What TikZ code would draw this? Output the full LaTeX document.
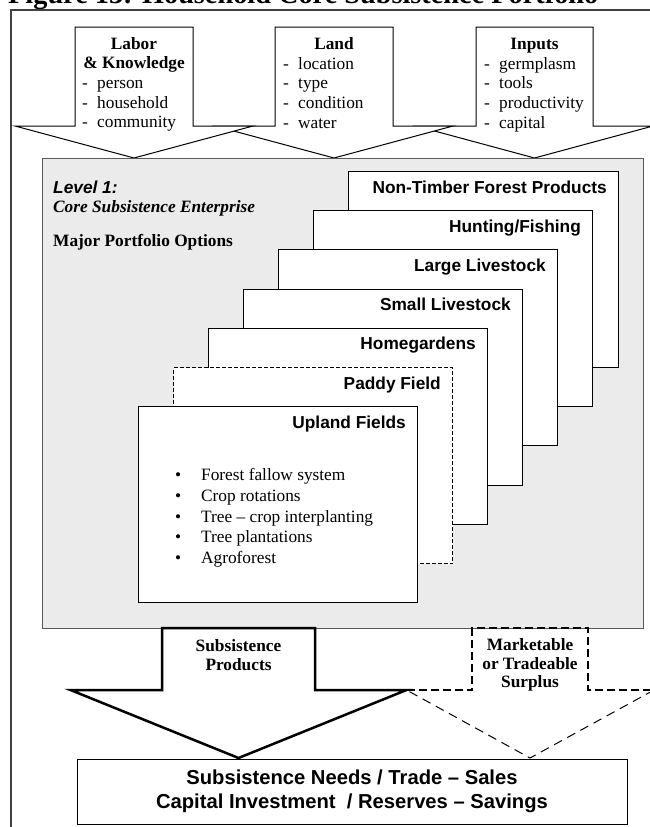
\documentclass[tikz,border=0pt]{standalone}
\usepackage{fontspec}
\setmainfont{Liberation Serif}
\setsansfont{Liberation Sans}
\usetikzlibrary{calc}
\newcommand\fsz{\fontsize{17.3}{19.7}\selectfont}
\newcommand\dsh{\makebox[15pt][l]{-}}
\newcommand\bul{\makebox[26pt][l]{\textbullet}}
\tikzset{outerline/.style={draw=black!75,line width=1.5pt},
blk/.style={draw=black,fill=white,line width=1pt,line join=miter},
panel/.style={draw=black!65,fill=black!8,line width=1.3pt,anchor=north west,inner sep=0pt,minimum width=601pt,minimum height=470pt},
card/.style={draw=black,fill=white,line width=1pt,anchor=north west,inner sep=0pt,minimum width=279pt,minimum height=196pt},
cardlab/.style={font=\sffamily\bfseries\fsz,anchor=base east,inner sep=0pt},
hd/.style={font=\bfseries\fsz,align=center,anchor=base,inner sep=0pt},
lst/.style={font=\fsz,align=left,anchor=base west,inner sep=0pt},
txt/.style={anchor=base west,inner sep=0pt},
outarr/.style={draw=black,fill=white,line width=2.5pt,line join=miter},
dshaft/.style={draw=black,line width=2.5pt,dash pattern=on 8pt off 4pt},
dhead/.style={draw=black,line width=1pt,dash pattern=on 9pt off 6pt}}
\begin{document}
\begin{tikzpicture}[x=1pt,y=-1pt]
\useasboundingbox (0,0) rectangle (649,827);
\node[txt,font=\bfseries\fontsize{28.3}{30}\selectfont] (title) at (8,3.5) {Figure 13: Household Core Subsistence Portfolio};
\draw[outerline] (11,840) -- (11,10) -- (660,10);
\draw[blk] (416,126) -- (476,126) -- (476,27) -- (593,27) -- (593,126) -- (653,126) -- (534.5,158) -- cycle;
\draw[blk] (215,126) -- (275,126) -- (275,27) -- (393,27) -- (393,126) -- (453,126) -- (334,158) -- cycle;
\draw[blk] (15,126) -- (75,126) -- (75,27) -- (193,27) -- (193,126) -- (253,126) -- (134,158) -- cycle;
\node[hd] (labor) at (134,68.7) {Labor\\\& Knowledge};
\node[lst] (laborlist) at (82,127.9) {\dsh person\\\dsh household\\\dsh community};
\node[hd] (land) at (334,49) {Land};
\node[lst] (landlist) at (283,128.1) {\dsh location\\\dsh type\\\dsh condition\\\dsh water};
\node[hd] (inputs) at (534.5,49) {Inputs};
\node[lst] (inputslist) at (484,128.1) {\dsh germplasm\\\dsh tools\\\dsh productivity\\\dsh capital};
\node[panel] (core) at (42,158) {};
\node[txt,font=\sffamily\bfseries\itshape\fsz] (level) at (53,193) {Level 1:};
\node[txt,font=\bfseries\itshape\fsz] (enterprise) at (53,212) {Core Subsistence Enterprise};
\node[txt,font=\bfseries\fsz] (options) at (53,246) {Major Portfolio Options};
\node[card,minimum width=270pt] (ntfp) at (348,171) {};
\node[card] (hunt) at (313,210.2) {};
\node[card] (large) at (278,249.4) {};
\node[card] (small) at (243,288.6) {};
\node[card] (home) at (208,327.8) {};
\node[card,dash pattern=on 4pt off 2pt] (paddy) at (173,367) {};
\node[card] (upland) at (138,406.2) {};
\node[cardlab] (ntfplab) at ($(ntfp.north east)+(-12,22)$) {Non-Timber Forest Products};
\node[cardlab] (huntlab) at ($(hunt.north east)+(-12,22)$) {Hunting/Fishing};
\node[cardlab] (largelab) at ($(large.north east)+(-12,22)$) {Large Livestock};
\node[cardlab] (smalllab) at ($(small.north east)+(-12,22)$) {Small Livestock};
\node[cardlab] (homelab) at ($(home.north east)+(-12,22)$) {Homegardens};
\node[cardlab] (paddylab) at ($(paddy.north east)+(-12,22)$) {Paddy Field};
\node[cardlab] (uplandlab) at ($(upland.north east)+(-12,22)$) {Upland Fields};
\node[lst,font=\fontsize{17.3}{20.8}\selectfont] (uplandlist) at (175,563.7) {\bul Forest fallow system\\\bul Crop rotations\\\bul Tree – crop interplanting\\\bul Tree plantations\\\bul Agroforest};
\draw[outarr] (70.5,690) -- (162,690) -- (162,628) -- (315,628) -- (315,690) -- (406.5,690) -- (238.5,758) -- cycle;
\draw[dshaft] (406.5,690) -- (472,690) -- (472,628) -- (588,628) -- (588,690) -- (654,690);
\draw[dhead] (654,690) -- (530,758) -- (406.5,690);
\node[hd,font=\bfseries\fontsize{17.3}{18.5}\selectfont] (subs) at (238.5,670) {Subsistence\\Products};
\node[hd,font=\bfseries\fontsize{17.3}{18.5}\selectfont] (surplus) at (530,687.7) {Marketable\\or Tradeable\\Surplus};
\node[card,minimum width=550pt,minimum height=65pt] (needs) at (77,759) {};
\node[hd,font=\sffamily\bfseries\fontsize{20.2}{24.5}\selectfont] (needstxt) at (352,808.5) {Subsistence Needs / Trade – Sales\\Capital Investment~ / Reserves – Savings};
\end{tikzpicture}
\end{document}
